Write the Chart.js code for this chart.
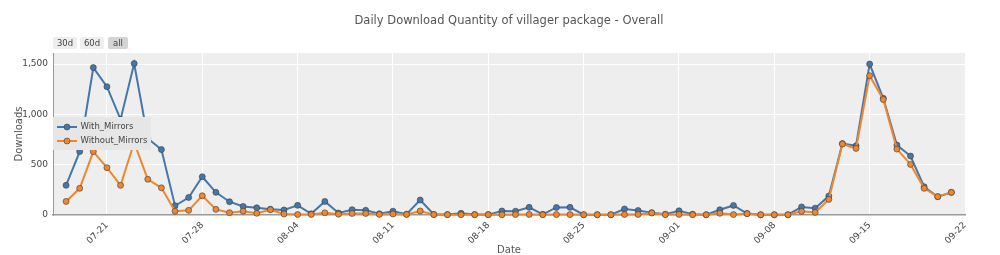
<!DOCTYPE html>
<html>
<head>
<meta charset="utf-8">
<script src="https://cdn.jsdelivr.net/npm/chart.js@4"></script>
<style>
  html, body { margin: 0; padding: 0; background: #fff; }
  #wrap { width: 1000px; height: 255px; }
</style>
</head>
<body>
<div id="wrap"><canvas id="dlChart" width="1000" height="255"></canvas></div>
<script>
const DATES = [
  "07-18","07-19","07-20","07-21","07-22","07-23","07-24","07-25","07-26","07-27",
  "07-28","07-29","07-30","07-31","08-01","08-02","08-03","08-04","08-05","08-06",
  "08-07","08-08","08-09","08-10","08-11","08-12","08-13","08-14","08-15","08-16",
  "08-17","08-18","08-19","08-20","08-21","08-22","08-23","08-24","08-25","08-26",
  "08-27","08-28","08-29","08-30","08-31","09-01","09-02","09-03","09-04","09-05",
  "09-06","09-07","09-08","09-09","09-10","09-11","09-12","09-13","09-14","09-15",
  "09-16","09-17","09-18","09-19","09-20","09-21",
];
const WITH_MIRRORS = [
  295, 630, 1465, 1275, 950, 1505, 760, 650, 92, 174,
  380, 225, 132, 85, 72, 58, 50, 96, 12, 135,
  20, 53, 47, 12, 38, 8, 149, 6, 4, 17,
  4, 4, 40, 38, 76, 7, 75, 76, 3, 3,
  3, 60, 45, 23, 8, 42, 8, 3, 52, 95,
  15, 3, 3, 3, 80, 68, 188, 710, 688, 1500,
  1160, 695, 586, 281, 182, 225,
];
const WITHOUT_MIRRORS = [
  135, 265, 630, 470, 295, 720, 355, 270, 38, 46,
  191, 56, 23, 38, 17, 52, 10, 5, 5, 22,
  8, 15, 15, 6, 10, 6, 40, 4, 3, 3,
  3, 3, 3, 4, 5, 3, 4, 4, 3, 2,
  2, 5, 5, 20, 4, 6, 3, 2, 17, 4,
  13, 2, 2, 2, 36, 26, 155, 705, 662, 1385,
  1148, 655, 503, 265, 182, 225,
];
const TICK_LABELS = ["07-21","07-28","08-04","08-11","08-18","08-25","09-01","09-08","09-15","09-22"];
const Y_TICKS = [0, 500, 1000, 1500];
const RANGE_BUTTONS = ["30d", "60d", "all"];

const BLUE = "#4577ab";
const ORANGE = "#f0872e";
const FONT = "'DejaVu Sans', Verdana, sans-serif";
const TXT = "#444";
const MARK_EDGE = "rgba(60,60,60,0.6)";

// days since the first date (year fixed, only month-day used)
function dayIndex(md) {
  const [m, d] = md.split("-").map(Number);
  const [m0, d0] = DATES[0].split("-").map(Number);
  return Math.round((Date.UTC(2019, m - 1, d) - Date.UTC(2019, m0 - 1, d0)) / 86400000);
}

const pts = arr => arr.map((v, i) => ({ x: dayIndex(DATES[i]), y: v }));

const decor = {
  id: "decor",
  beforeDraw(chart) {
    const { ctx, chartArea: a } = chart;
    ctx.save();
    ctx.fillStyle = "#eeeeee";
    ctx.fillRect(a.left, a.top, a.right - a.left, a.bottom - a.top);
    ctx.restore();
  },
  afterDraw(chart) {
    const { ctx, chartArea: a } = chart;
    const cx = (a.left + a.right) / 2;
    ctx.save();
    ctx.fillStyle = "#555";
    ctx.textBaseline = "middle";

    // title
    ctx.textAlign = "center";
    ctx.font = "11.5px " + FONT;
    ctx.fillText("Daily Download Quantity of villager package - Overall", cx, 21);

    // x title
    ctx.font = "10px " + FONT;
    ctx.fillText("Date", cx, 250);

    // y title
    ctx.save();
    ctx.translate(19, (a.top + a.bottom) / 2);
    ctx.rotate(-Math.PI / 2);
    ctx.fillText("Downloads", 0, 0);
    ctx.restore();

    // range buttons
    const btns = [[53, 24], [80, 24], [108, 20]];
    ctx.font = "8.5px " + FONT;
    RANGE_BUTTONS.forEach((t, i) => {
      const [bx, bw] = btns[i];
      ctx.fillStyle = i === 2 ? "#d4d4d4" : "#eeeeee";
      ctx.beginPath();
      ctx.roundRect(bx, 37, bw, 12, 2);
      ctx.fill();
      ctx.fillStyle = TXT;
      ctx.fillText(t, bx + bw / 2, 43.5);
    });

    // legend
    ctx.fillStyle = "#e6e6e6";
    ctx.fillRect(53, 117, 98, 33);
    const items = [["With_Mirrors", BLUE, 127], ["Without_Mirrors", ORANGE, 141]];
    items.forEach(([name, col, y]) => {
      ctx.strokeStyle = col;
      ctx.lineWidth = 2;
      ctx.beginPath();
      ctx.moveTo(57, y);
      ctx.lineTo(77, y);
      ctx.stroke();
      ctx.fillStyle = col;
      ctx.strokeStyle = MARK_EDGE;
      ctx.lineWidth = 1;
      ctx.beginPath();
      ctx.arc(67, y, 3, 0, Math.PI * 2);
      ctx.fill();
      ctx.stroke();
      ctx.fillStyle = TXT;
      ctx.textAlign = "left";
      ctx.font = "8.5px " + FONT;
      ctx.fillText(name, 80.5, y);
    });
    ctx.restore();
  },
};

const lineSet = (label, data, color, order) => ({
  label,
  data: pts(data),
  borderColor: color,
  backgroundColor: color,
  borderWidth: 2,
  pointRadius: 3,
  pointBorderWidth: 1,
  pointBackgroundColor: color,
  pointBorderColor: MARK_EDGE,
  tension: 0,
  clip: false,
  order,
});

new Chart(document.getElementById("dlChart"), {
  type: "line",
  data: {
    datasets: [
      lineSet("With_Mirrors", WITH_MIRRORS, BLUE, 1),
      lineSet("Without_Mirrors", WITHOUT_MIRRORS, ORANGE, 0),
    ],
  },
  options: {
    responsive: false,
    animation: false,
    layout: { padding: { top: 53, right: 35, left: 0, bottom: 0 } },
    plugins: { legend: { display: false }, tooltip: { enabled: false } },
    scales: {
      x: {
        type: "linear",
        min: -0.96,
        max: 66,
        afterBuildTicks: s => { s.ticks = TICK_LABELS.map(l => ({ value: dayIndex(l) })); },
        afterFit: s => { s.height = 40; },
        grid: { color: "#ffffff", lineWidth: 1, drawTicks: false },
        border: { display: true, color: "#9a9a9a", width: 1.5 },
        ticks: {
          autoSkip: false,
          minRotation: 45,
          maxRotation: 45,
          padding: 5,
          color: TXT,
          font: { family: FONT, size: 9 },
          callback: v => TICK_LABELS.find(l => dayIndex(l) === v) || "",
        },
      },
      y: {
        min: 0,
        max: 1610,
        afterBuildTicks: s => { s.ticks = Y_TICKS.map(v => ({ value: v })); },
        afterFit: s => { s.width = 53; },
        grid: { color: "#ffffff", lineWidth: 1, drawTicks: false },
        border: { display: true, color: "#9a9a9a", width: 1 },
        ticks: {
          padding: 5,
          color: TXT,
          font: { family: FONT, size: 9 },
          callback: v => v.toLocaleString("en-US"),
        },
      },
    },
  },
  plugins: [decor],
});
</script>
</body>
</html>
